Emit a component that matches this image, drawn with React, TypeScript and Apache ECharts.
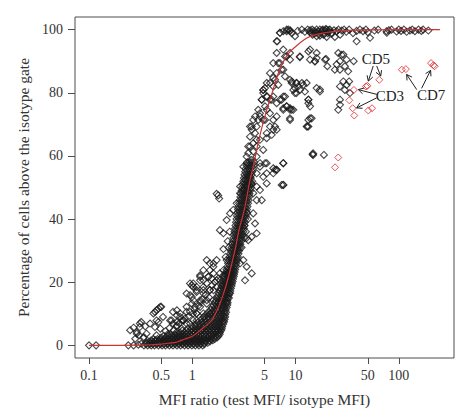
import React, { useEffect, useRef } from "react";
import * as echarts from "echarts";

// ---------- axis ticks ----------
const xTickValues = [0.1, 0.5, 1, 5, 10, 50, 100];
const xTickLabels = ["0.1", "0.5", "1", "5", "10", "50", "100"];
const yTickValues = [0, 20, 40, 60, 80, 100];

// ---------- fitted curve ----------
const fitX = [0.1, 0.2, 0.3, 0.4, 0.5, 0.6, 0.7, 0.85, 1.0, 1.14, 1.3, 1.54, 1.7, 1.85, 2.0, 2.15, 2.41, 2.63, 2.83, 3.05, 3.24, 3.62, 3.9, 4.3, 4.7, 5.3, 5.87, 6.6, 7.34, 8.5, 10.3, 13, 16, 22, 30, 50, 100, 250];
const fitY = [0, 0, 0.05, 0.2, 0.4, 0.7, 1.0, 2.0, 2.9, 4.2, 5.8, 7.9, 10.5, 13.2, 16.3, 19.6, 25.9, 31.2, 36.5, 40.5, 44, 52.4, 56.6, 63.5, 68.8, 75, 79.5, 85, 88.8, 92.4, 95, 97.4, 98.5, 99.3, 99.7, 99.9, 100, 100];

// ---------- black points ----------
// dense band: [y, x values]
const denseRows: [number, number[]][] = [
  [0, [0.34, 0.37, 0.4, 0.43, 0.47, 0.51, 0.55, 0.6, 0.65, 0.71, 0.77, 0.84, 0.91, 0.99, 1.07, 1.16, 1.26]],
  [0.8, [0.36, 0.39, 0.42, 0.46, 0.5, 0.54, 0.58, 0.63, 0.68, 0.74, 0.8, 0.87, 0.94, 1.02, 1.1, 1.2, 1.3, 1.41]],
  [1.6, [0.4, 0.44, 0.48, 0.52, 0.56, 0.61, 0.66, 0.71, 0.77, 0.83, 0.9, 0.97, 1.05, 1.14, 1.24, 1.35, 1.47, 1.58]],
  [2.5, [0.5, 0.55, 0.6, 0.65, 0.7, 0.76, 0.82, 0.88, 0.95, 1.03, 1.11, 1.2, 1.3, 1.41, 1.52, 1.64, 1.74]],
  [3.5, [0.62, 0.68, 0.74, 0.8, 0.87, 0.94, 1.02, 1.1, 1.19, 1.29, 1.4, 1.51, 1.62, 1.74, 1.84]],
  [4.7, [0.8, 0.88, 0.96, 1.04, 1.13, 1.23, 1.33, 1.44, 1.56, 1.68, 1.8, 1.9]],
  [6, [1.0, 1.08, 1.17, 1.27, 1.38, 1.5, 1.62, 1.74, 1.86, 1.95]],
  [7.5, [1.15, 1.25, 1.36, 1.48, 1.6, 1.72, 1.84, 1.96, 2.03]],
  [9, [1.3, 1.42, 1.54, 1.66, 1.78, 1.9, 2.02, 2.08]],
  [10.5, [1.42, 1.54, 1.66, 1.78, 1.9, 2.02, 2.12]],
  [12, [1.55, 1.67, 1.79, 1.91, 2.03, 2.15]],
  [13.5, [1.65, 1.77, 1.89, 2.01, 2.13, 2.2]],
  [15, [1.72, 1.84, 1.96, 2.08, 2.2, 2.26]],
  [16.5, [1.8, 1.92, 2.04, 2.16, 2.28, 2.32]],
  [18, [1.88, 2.0, 2.12, 2.24, 2.36]],
  [19.5, [1.95, 2.07, 2.19, 2.31, 2.42]],
  [21, [2.02, 2.14, 2.26, 2.38, 2.48]],
  [22.5, [2.08, 2.2, 2.32, 2.44, 2.54]],
  [24, [2.15, 2.27, 2.39, 2.5, 2.6]],
  [26, [2.22, 2.34, 2.46, 2.58, 2.68]],
  [28, [2.3, 2.42, 2.54, 2.66, 2.76]],
  [30, [2.36, 2.48, 2.6, 2.72, 2.84]],
  [32, [2.42, 2.55, 2.68, 2.8, 2.92]],
  [34, [2.5, 2.62, 2.75, 2.88, 3.0, 3.2, 3.35]],
  [36, [2.56, 2.7, 2.84, 2.98, 3.12, 3.3]],
  [38, [2.62, 2.76, 2.9, 3.04, 3.2]],
  [40, [2.68, 2.82, 2.96, 3.1, 3.26, 3.45]],
  [42, [2.74, 2.88, 3.02, 3.18, 3.34]],
  [44, [2.8, 2.95, 3.1, 3.26, 3.42]],
  [46, [2.88, 3.02, 3.18, 3.34, 3.5]],
  [48, [2.95, 3.1, 3.26, 3.42, 3.58]],
  [50, [3.04, 3.2, 3.36, 3.52, 3.7]],
  [52, [3.12, 3.28, 3.44, 3.62, 3.8]],
  [54, [3.2, 3.38, 3.56, 3.74]],
  [56, [3.3, 3.48, 3.66, 3.86]],
  [58, [3.4, 3.58, 3.78, 3.98]],
];

// in-between rows of the same dense band
const denseRowsB: [number, number[]][] = [
  [0.4, [0.355, 0.385, 0.415, 0.45, 0.49, 0.53, 0.575, 0.625, 0.68, 0.74, 0.805, 0.875, 0.95, 1.03, 1.12, 1.21, 1.31]],
  [1.2, [0.38, 0.41, 0.44, 0.48, 0.52, 0.56, 0.605, 0.655, 0.71, 0.77, 0.835, 0.905, 0.98, 1.06, 1.15, 1.25, 1.36, 1.48]],
  [2.0, [0.42, 0.46, 0.5, 0.54, 0.585, 0.635, 0.685, 0.74, 0.8, 0.865, 0.935, 1.01, 1.1, 1.19, 1.29, 1.41, 1.53, 1.65]],
  [3.0, [0.53, 0.58, 0.63, 0.68, 0.73, 0.79, 0.85, 0.92, 0.99, 1.07, 1.15, 1.25, 1.35, 1.46, 1.57, 1.69, 1.79]],
  [4.1, [0.7, 0.76, 0.83, 0.9, 0.98, 1.06, 1.15, 1.25, 1.36, 1.48, 1.6, 1.72, 1.85]],
  [5.3, [0.9, 0.98, 1.06, 1.15, 1.25, 1.36, 1.48, 1.6, 1.72, 1.84, 1.93]],
  [6.8, [1.08, 1.17, 1.27, 1.38, 1.5, 1.62, 1.74, 1.86, 1.99]],
  [8.2, [1.22, 1.33, 1.45, 1.57, 1.69, 1.81, 1.93, 2.05]],
  [9.8, [1.36, 1.48, 1.6, 1.72, 1.84, 1.96, 2.08]],
  [11.2, [1.5, 1.62, 1.74, 1.86, 1.98, 2.1]],
  [12.8, [1.6, 1.72, 1.84, 1.96, 2.08, 2.18]],
  [14.2, [1.7, 1.82, 1.94, 2.06, 2.18]],
  [15.8, [1.77, 1.89, 2.01, 2.13, 2.25]],
  [17.2, [1.85, 1.97, 2.09, 2.21, 2.33]],
  [18.8, [1.92, 2.04, 2.16, 2.28, 2.4]],
  [20.2, [2.0, 2.12, 2.24, 2.36, 2.46]],
  [21.8, [2.06, 2.18, 2.3, 2.42, 2.52]],
  [23.2, [2.12, 2.24, 2.36, 2.48, 2.57]],
  [25, [2.19, 2.31, 2.43, 2.55, 2.65]],
  [27, [2.27, 2.39, 2.51, 2.63, 2.73]],
  [29, [2.33, 2.45, 2.57, 2.69, 2.8]],
  [31, [2.4, 2.52, 2.64, 2.76, 2.88]],
  [33, [2.47, 2.6, 2.72, 2.85, 2.97]],
  [35, [2.53, 2.66, 2.8, 2.94, 3.08]],
  [37, [2.6, 2.73, 2.87, 3.01, 3.16]],
  [39, [2.65, 2.79, 2.93, 3.07, 3.23]],
  [41, [2.71, 2.85, 2.99, 3.14, 3.3]],
  [43, [2.77, 2.92, 3.06, 3.22, 3.38]],
  [45, [2.84, 2.98, 3.14, 3.3, 3.46]],
  [47, [2.92, 3.06, 3.22, 3.38, 3.54]],
  [49, [3.0, 3.15, 3.31, 3.47, 3.64]],
  [51, [3.08, 3.24, 3.4, 3.57, 3.75]],
  [53, [3.16, 3.33, 3.5, 3.68]],
  [55, [3.25, 3.43, 3.61, 3.8]],
  [57, [3.35, 3.53, 3.72, 3.92]],
];

const farLeft: [number, number][] = [
  [0.1, 0], [0.117, 0], [0.24, 0], [0.27, 0], [0.3, 0.2], [0.32, 0.5],
];

const lowScatter: [number, number][] = [
  [0.25, 4.8], [0.27, 5.6], [0.29, 4.2], [0.31, 6.9], [0.32, 7.4], [0.35, 6.0], [0.306, 3.2], [0.28, 2.1], [0.335, 2.4], [0.36, 3.7],
  [0.435, 10.6], [0.47, 11.7], [0.49, 12.2], [0.45, 7.9], [0.435, 5.8], [0.42, 10.1], [0.45, 11.1], [0.52, 9], [0.39, 6.9], [0.31, 5.8], [0.29, 3.7], [0.34, 2.6],
  [0.5, 12.2], [0.47, 7.4], [0.49, 5.3], [0.45, 3.2],
  [0.65, 10.6], [0.71, 9.5], [0.63, 7.9], [0.76, 9], [0.82, 7.9], [0.71, 6.3], [0.79, 5.3],
  [0.71, 11.1], [0.76, 10.1], [0.88, 12.2], [0.95, 10.6], [0.61, 7.9], [0.65, 6.9], [0.79, 7.9], [0.88, 6.9], [1.02, 7.9], [1.1, 10.1], [1.19, 12.2], [1.28, 10.1],
  [0.88, 10.6], [1.02, 10.1], [0.71, 7.4], [0.82, 7.9], [0.95, 6.9], [1.1, 7.9], [1.28, 9], [1.48, 10.1],
  [0.95, 15.9], [1.02, 19.6], [1.1, 18.5], [1.19, 20.6], [0.99, 13.2], [1.06, 12.2], [1.28, 17.5], [1.38, 19.6], [1.48, 23.8], [1.6, 25.9], [1.72, 27], [1.54, 21.2],
  [1.19, 14.3], [1.38, 14.3], [1.1, 10.1], [1.6, 17.5], [1.85, 20.6], [2.0, 23.8], [2.15, 27],
  [0.99, 19], [1.19, 22.2], [1.28, 20.6], [1.43, 21.7], [1.6, 22.8], [1.79, 21.2], [2.0, 22.2], [2.23, 22.8],
  [1.1, 17.5], [1.28, 16.4], [1.48, 17.5], [1.72, 18.5], [2.0, 19], [1.02, 14.3], [1.19, 13.7], [1.38, 13.2], [1.6, 14.3], [1.85, 13.2],
  [0.95, 19.6], [1.02, 18.5], [0.88, 16.4], [0.99, 15.3], [1.1, 16.9], [1.28, 18.5], [1.48, 17.5],
  [1.38, 27], [1.48, 26], [1.6, 24.9], [1.28, 23.8], [1.19, 21.7], [1.43, 21.7], [1.72, 20.6], [1.85, 22.8],
  [0.55, 4.5], [0.6, 5.5], [0.66, 4.8], [0.58, 3.6], [0.7, 6.0], [0.75, 7.0], [0.85, 8.6], [0.92, 9.2], [1.05, 11.3], [1.15, 12.6], [1.25, 14.6], [1.35, 16.0], [1.45, 15.2], [1.55, 19.0], [1.65, 20.0],
];

const steepScatter: [number, number][] = [
  [1.72, 48], [1.82, 46.5], [1.78, 47.5], [1.85, 36.5], [2.0, 35.5], [2.15, 39.7], [2.32, 41.8], [2.49, 42.9], [2.69, 45], [2.9, 48.2], [3.12, 49.2], [3.36, 50.3], [3.76, 51.3], [3.89, 48.2], [4.2, 46],
  [2.0, 30.5], [2.2, 33], [2.3, 36], [2.1, 28], [2.25, 31],
  [3.12, 27], [2.9, 26], [3.36, 24.9], [3.76, 22.8], [3.24, 20.6], [3.89, 41.8], [4.05, 38.6], [4.2, 35.5], [3.76, 34.4], [3.48, 33.3],
  [4.52, 49.2], [5.25, 51.3], [4.7, 46], [3.0, 31], [3.2, 38], [3.4, 42],
];

const upperMid: [number, number][] = [
  [7.06, 99], [8.2, 100], [8.83, 99.5], [9.87, 97.9], [6.56, 96.3], [7.6, 93.7], [8.2, 91.5], [8.83, 90.5], [7.06, 89.4], [7.33, 87.3], [6.56, 86.2], [6.08, 84.7], [5.65, 83.1], [7.9, 85.2], [9.17, 83.6], [9.5, 80.9], [9.87, 79.9],
  [5.06, 81.5], [4.86, 79.9], [5.25, 78.8], [5.65, 77.8], [6.08, 78.8], [6.56, 76.7], [7.06, 77.8], [7.6, 78.8], [8.2, 75.7], [9.17, 74.6], [8.83, 71.9], [7.6, 74.6],
  [7.9, 91.5], [8.83, 92.6], [6.8, 89.4], [7.6, 87.3], [11, 91.5], [16, 92.6], [15.4, 89.9], [13.8, 93.7], [6.32, 84.1], [6.08, 82], [6.8, 82.5], [5.32, 78.8], [4.86, 80.9], [5.87, 77.8], [5.06, 75.7], [4.7, 77.8], [5.25, 74.6], [5.65, 73.5], [4.52, 73.5], [5.06, 71.4], [6.08, 71.4], [6.32, 69.3],
  [7.33, 77.8], [7.9, 78.8], [7.6, 75.1], [8.2, 75.7], [8.83, 75.1], [9.5, 74.6], [9.17, 83.1], [10.2, 83.1], [11, 80.9], [11.9, 82.5], [12.8, 83.1], [12.3, 80.4], [10.2, 79.9], [9.87, 81.5],
  [13.3, 77.8], [13.8, 75.7], [13.3, 71.4], [14.3, 71.9], [12.8, 69.3], [14.8, 60.8], [8.83, 71.4], [5.65, 69.3], [6.08, 68.3], [5.25, 67.2], [6.56, 68.3], [4.52, 65.1], [5.25, 65.6], [5.87, 66.7],
  [3.89, 71.4], [3.62, 69.3], [3.76, 68.3], [4.2, 69.3], [4.05, 67.2], [4.35, 71.4], [3.62, 63], [3.48, 60.9], [3.89, 61.4], [4.2, 63], [3.76, 58.7], [3.36, 57.7], [3.12, 56.6], [4.2, 59.8], [4.52, 57.7], [5.25, 57.7], [4.86, 61.9], [6.08, 56.1], [7.6, 57.7],
  [4.52, 72.5], [4.86, 71.4], [6.56, 72.5], [3.89, 64], [4.2, 65.1], [3.24, 52.4], [3.62, 53.4], [4.2, 54.5], [4.52, 56.6], [5.06, 57.7], [4.86, 53.4], [5.25, 54.5], [6.32, 55.6], [7.33, 50.8], [4.2, 50.3], [2.9, 50.3],
  [6.65, 96.3], [6.56, 92.6], [6.08, 89.4], [5.65, 86.2], [5.25, 83.1], [4.86, 80.9], [4.7, 77.8], [4.35, 74.6], [4.05, 72.5], [3.76, 69.3], [3.62, 66.1], [3.48, 63], [3.36, 59.8],
  [6.08, 54.5], [7.6, 50.8], [6.56, 55.6],
];

const plateau: [number, number][] = [
  [7.06, 99], [7.6, 99.5], [8.2, 99.5], [8.5, 100], [8.83, 99.8], [9.2, 98.9], [10.5, 99.6], [11.5, 100], [12.3, 99.3], [13.1, 100], [13.8, 99.8], [14.3, 98.9], [15, 99.6], [15.4, 98.9], [16, 100], [16.6, 99.4], [17.2, 100], [17.8, 99.2], [18.4, 100], [19, 98.6], [19.3, 99.7], [20, 100], [20.8, 99.3], [21.5, 100], [22.4, 98.7], [23.5, 99.8], [25, 99.5], [26, 100], [27, 98.4], [28, 99.7], [29.5, 100], [31, 99.3], [33, 100], [36, 98.9], [39, 99.6], [42, 100], [45, 99.5], [48, 100], [50, 99.2], [58, 99.7], [63, 100], [76, 99.5], [80, 99.8], [85, 100], [95, 99.4], [100, 100], [105, 99.6], [112, 100], [119, 99.3], [128, 99.7], [135, 100], [143, 99.5], [155, 100], [165, 99.6], [172, 100], [193, 99.7],
  [14.5, 100], [15.8, 99.2], [17, 98.6], [18, 99.8], [19.6, 100.2], [20.5, 98.9], [21, 99.9],
  [13.8, 99.1], [14.6, 98.4], [16, 97.9], [17.2, 98.1], [18.6, 98.4], [20, 97.7], [24, 97.7], [22.4, 99], [39, 96.3], [52.6, 97.4], [76.5, 99],
];

const rightScatter: [number, number][] = [
  [11, 91.3], [13.3, 93.1], [13.8, 90.5], [15.4, 90], [16, 91], [19.7, 90.7], [20.3, 88.4], [24, 87.3], [26.9, 87.3], [25.9, 92.6], [29, 92.1], [31.2, 90.5], [36.5, 90], [26.9, 90], [25, 89], [30, 88.4], [32.3, 86.8],
  [29, 83.6], [31.2, 82.5], [26.9, 82], [30, 80.9], [33.6, 79.9], [26.9, 77.8], [25.9, 74.6], [26.9, 76.2],
  [8.83, 84.1], [10.2, 83.1], [10.6, 82], [11.5, 83.1], [16, 81.5], [17.2, 80.4], [13.3, 77.8], [13.3, 76.7], [8.83, 74.6], [13.8, 71.9], [13.3, 69.3],
  [14.8, 60.3], [18.8, 60.3], [7.6, 57.7], [6.56, 55.6], [7.6, 50.8],
  [19.3, 90.5], [27.9, 92], [33, 83.6], [17.2, 81], [13, 69.3], [14.6, 60.5],
];

// ---------- red points ----------
const redPoints: [number, number][] = [
  [36.7, 80.9], [33.1, 77.6], [35.7, 75.1], [37.0, 72.8], [48, 82.0], [49.5, 82.2], [64.6, 84.1], [50.6, 74.4], [55, 75.1],
  [107, 87.3], [117, 87.5], [205, 89.4], [216, 88.7], [222, 88.4], [25.9, 59.5], [24.1, 56.4],
];

// ---------- annotations ----------
const annLabels = ["CD5", "CD3", "CD7"];
const annX = [60, 82, 205];
const annY = [90.8, 78.9, 79.2];
// arrows: start (x, y) -> end (x, y)
const arrowFromX = [56.5, 61, 61, 61, 149, 166];
const arrowFromY = [88.5, 88.5, 79.5, 78.4, 81.0, 81.4];
const arrowToX = [50.6, 66.7, 40.5, 39, 119, 203];
const arrowToY = [83.7, 85.3, 81.0, 75.2, 85.8, 87.1];

const FONT = "'Liberation Serif', 'DejaVu Serif', serif";
const LINE = "#4d4d4d";
const TEXT = "#333333";

const lg = (v: number) => Math.log10(v);

export default function App() {
  const ref = useRef<HTMLDivElement>(null);

  useEffect(() => {
    if (!ref.current) return;
    const chart = echarts.init(ref.current, null, { renderer: "svg" });

    const blackData: number[][] = [];
    [denseRows, denseRowsB].forEach((rows) =>
      rows.forEach(([y, xs]) => xs.forEach((x) => blackData.push([lg(x), y])))
    );
    [farLeft, lowScatter, steepScatter, upperMid, plateau, rightScatter].forEach((arr) =>
      arr.forEach(([x, y]) => blackData.push([lg(x), y]))
    );
    const redData = redPoints.map(([x, y]) => [lg(x), y]);
    const fitData = fitX.map((x, i) => [lg(x), fitY[i]]);
    const arrowData = arrowFromX.map((x, i) => [lg(x), arrowFromY[i], lg(arrowToX[i]), arrowToY[i]]);
    const annData = annX.map((x, i) => [lg(x), annY[i]]);
    const xTickPos = xTickValues.map(lg);

    const option: any = {
      animation: false,
      backgroundColor: "#ffffff",
      grid: {
        left: 75,
        top: 17,
        width: 379,
        height: 341,
        show: true,
        borderColor: LINE,
        borderWidth: 1,
        backgroundColor: "transparent",
      },
      xAxis: {
        type: "value",
        min: -1.136,
        max: 2.534,
        axisLine: { show: false, onZero: false },
        splitLine: { show: false },
        axisTick: { show: true, length: 6, customValues: xTickPos, lineStyle: { color: LINE } },
        axisLabel: {
          customValues: xTickPos,
          margin: 10,
          fontFamily: FONT,
          fontSize: 14,
          color: TEXT,
          formatter: (v: number) => {
            const i = xTickPos.findIndex((p) => Math.abs(p - v) < 1e-6);
            return i >= 0 ? xTickLabels[i] : "";
          },
        },
        name: "MFI ratio (test MFI/ isotype MFI)",
        nameLocation: "middle",
        nameGap: 33,
        nameTextStyle: { fontFamily: FONT, fontSize: 15.5, color: TEXT },
      },
      yAxis: {
        type: "value",
        min: -4,
        max: 104,
        axisLine: { show: false, onZero: false },
        splitLine: { show: false },
        axisTick: { show: true, length: 7, customValues: yTickValues, lineStyle: { color: LINE } },
        axisLabel: {
          customValues: yTickValues,
          margin: 12,
          fontFamily: FONT,
          fontSize: 14,
          color: TEXT,
        },
        name: "Percentage of cells above the isotype gate",
        nameLocation: "middle",
        nameGap: 30,
        nameTextStyle: { fontFamily: FONT, fontSize: 15.5, color: TEXT },
      },
      series: [
        {
          type: "scatter",
          silent: true,
          symbol: "diamond",
          symbolSize: 7,
          data: blackData,
          itemStyle: { color: "rgba(0,0,0,0)", borderColor: "#1a1a1a", borderWidth: 1.1 },
        },
        {
          type: "line",
          silent: true,
          data: fitData,
          smooth: 0.3,
          showSymbol: false,
          lineStyle: { color: "#cc3333", width: 1.2 },
        },
        {
          type: "scatter",
          silent: true,
          symbol: "diamond",
          symbolSize: 7,
          data: redData,
          itemStyle: { color: "rgba(0,0,0,0)", borderColor: "#e0282b", borderWidth: 1 },
        },
        {
          type: "custom",
          silent: true,
          encode: { x: [0, 2], y: [1, 3] },
          data: arrowData,
          renderItem: (params: any, api: any) => {
            const p1 = api.coord([api.value(0), api.value(1)]);
            const p2 = api.coord([api.value(2), api.value(3)]);
            const a = Math.atan2(p2[1] - p1[1], p2[0] - p1[0]);
            const L = 6;
            const t = Math.PI / 6;
            const h1 = [p2[0] - L * Math.cos(a - t), p2[1] - L * Math.sin(a - t)];
            const h2 = [p2[0] - L * Math.cos(a + t), p2[1] - L * Math.sin(a + t)];
            return {
              type: "group",
              children: [
                {
                  type: "line",
                  shape: { x1: p1[0], y1: p1[1], x2: p2[0], y2: p2[1] },
                  style: { stroke: "#222222", lineWidth: 1 },
                },
                {
                  type: "polyline",
                  shape: { points: [h1, p2, h2] },
                  style: { stroke: "#222222", lineWidth: 1, fill: "none" },
                },
              ],
            };
          },
        },
        {
          type: "custom",
          silent: true,
          data: annData,
          renderItem: (params: any, api: any) => {
            const p = api.coord([api.value(0), api.value(1)]);
            return {
              type: "text",
              x: p[0],
              y: p[1],
              style: {
                text: annLabels[params.dataIndex],
                fontFamily: FONT,
                fontSize: 15,
                fill: "#222222",
                align: "center",
                verticalAlign: "middle",
              },
            };
          },
        },
      ],
    };

    chart.setOption(option);
    return () => chart.dispose();
  }, []);

  return (
    <div
      ref={ref}
      style={{ position: "absolute", left: 0, top: 0, width: 476, height: 418, background: "#fff" }}
    />
  );
}
